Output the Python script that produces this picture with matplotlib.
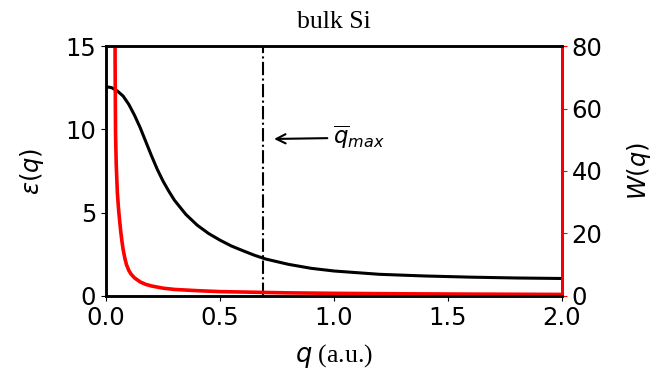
import matplotlib
matplotlib.use('Agg')
import matplotlib.pyplot as plt

plt.rcParams['font.size'] = 17.5

# dielectric function eps(q)
q_eps = [0.0, 0.025, 0.05, 0.075, 0.1, 0.125, 0.15, 0.175, 0.2, 0.225, 0.25, 0.275, 0.3,
         0.35, 0.4, 0.45, 0.5, 0.55, 0.6, 0.65, 0.7, 0.8, 0.9, 1.0, 1.2, 1.4, 1.6, 1.8, 2.0]
eps = [12.56, 12.5, 12.3, 12.0, 11.5, 10.85, 10.1, 9.25, 8.4, 7.6, 6.9, 6.3, 5.75,
       4.9, 4.25, 3.75, 3.35, 3.0, 2.72, 2.45, 2.22, 1.9, 1.66, 1.5, 1.3, 1.2, 1.13, 1.08, 1.05]

# screened potential W(q)
q_w = [0.039, 0.040, 0.042, 0.045, 0.05, 0.055, 0.06, 0.065, 0.07, 0.075, 0.083, 0.09,
       0.1, 0.11, 0.125, 0.15, 0.175, 0.2, 0.25, 0.3, 0.4, 0.5, 0.65, 0.8, 1.0, 1.3, 1.6, 2.0]
W = [120, 75, 52, 42, 33, 28, 24, 20.5, 17.5, 15, 12, 10, 8.2, 7.0, 5.8, 4.5, 3.7, 3.2,
     2.5, 2.1, 1.7, 1.4, 1.2, 1.0, 0.85, 0.7, 0.6, 0.5]

q_max = 0.687

fig = plt.figure(figsize=(6.64, 3.75), dpi=100)
ax = fig.add_axes([0.1596, 0.2107, 0.6868, 0.6666])
ax.plot(q_eps, eps, color='black', lw=2.2)
ax.axvline(q_max, color='black', ls='-.', lw=1.5)
ax.annotate(r'$\overline{q}_{max}$', xy=(0.725, 9.42), xytext=(0.995, 9.5),
            va='center', fontsize=16.5,
            arrowprops=dict(arrowstyle='->', color='black', lw=1.5))
ax.set_xlim(0, 2)
ax.set_ylim(0, 15)
ax.set_xticks([0.0, 0.5, 1.0, 1.5, 2.0])
ax.set_yticks([0, 5, 10, 15])
ax.set_ylabel(r'$\varepsilon(q)$', labelpad=14)
ax.set_xlabel(r'$q$ (a.u.)', family='Liberation Serif', fontsize=18.5, labelpad=9)
ax.set_title('bulk Si', family='Liberation Serif', fontsize=18.5, pad=13)
for s in ax.spines.values():
    s.set_linewidth(1.8)

ax2 = ax.twinx()
ax2.plot(q_w, W, color='red', lw=2.6)
ax2.set_ylim(0, 80)
ax2.set_yticks([0, 20, 40, 60, 80])
ax2.set_ylabel(r'$W(q)$', labelpad=16)
for s in ax2.spines.values():
    s.set_linewidth(1.8)
ax2.spines['right'].set_color('red')
ax2.tick_params(axis='y', colors='red', labelcolor='black')

fig.savefig('out.png', dpi=100)
